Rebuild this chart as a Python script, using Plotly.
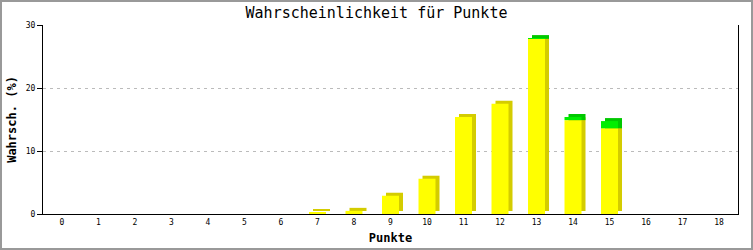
import plotly.graph_objects as go

# ---- data ----
punkte = list(range(19))
tick_labels = [str(p) for p in punkte]
gelb = [0, 0, 0, 0, 0, 0, 0, 0.25, 0.5, 2.9, 5.6, 15.4, 17.5, 27.8, 14.9, 13.6, 0, 0, 0]
gruen = [0, 0, 0, 0, 0, 0, 0, 0, 0, 0, 0, 0, 0, 0.12, 0.5, 1.15, 0, 0, 0]
y_ticks = [0, 10, 20, 30]

# ---- layout geometry ----
W, H = 753, 250
ML, MR, MT, MB = 43, 15, 25, 36
PW, PH = W - ML - MR, H - MT - MB
XR = [-0.52, 18.52]
YR = [0, 30]
px_per_cat = PW / (XR[1] - XR[0])
px_per_unit = PH / (YR[1] - YR[0])
bw = 17 / px_per_cat          # front width
dx = 4 / px_per_cat           # 3D depth in x
dy = 3 / px_per_unit          # 3D depth in y

fig = go.Figure()
common = dict(width=bw, marker_line_width=0, hoverinfo="skip", showlegend=False)
# shadow (3D side/top) bars
fig.add_trace(go.Bar(x=punkte, y=gelb, base=[dy] * len(punkte), offset=-bw / 2 + dx,
                     marker_color="#d4cc00", **common))
fig.add_trace(go.Bar(x=punkte, y=[g + dy if g > 0 else 0 for g in gruen], base=gelb,
                     offset=-bw / 2 + dx, marker_color="#00c800", **common))
# front bars
fig.add_trace(go.Bar(x=punkte, y=gelb, base=[0] * len(punkte), offset=-bw / 2,
                     marker_color="#ffff00", **common))
fig.add_trace(go.Bar(x=punkte, y=gruen, base=gelb, offset=-bw / 2,
                     marker_color="#00ee00", **common))

mono = "DejaVu Sans Mono"
fig.update_layout(
    width=W, height=H,
    margin=dict(l=ML, r=MR, t=MT, b=MB, autoexpand=False),
    barmode="overlay",
    plot_bgcolor="white", paper_bgcolor="white",
    title=dict(text="Wahrscheinlichkeit für Punkte", x=0.5, xanchor="center",
               y=1 - 13 / H, yanchor="middle",
               font=dict(family=mono, size=15, color="black")),
    xaxis=dict(range=XR, tickmode="array", tickvals=punkte, ticktext=tick_labels,
               automargin=False,
               showgrid=False, zeroline=False, showline=True, linecolor="black",
               linewidth=1, ticks="", tickfont=dict(family=mono, size=8, color="black"),
               title=dict(text="<b>Punkte</b>", font=dict(family=mono, size=12, color="black"),
                          standoff=8)),
    yaxis=dict(range=YR, tickmode="array", tickvals=y_ticks, showgrid=True,
               automargin=False,
               gridcolor="#bbbbbb", griddash="3px,4px", gridwidth=1, zeroline=False,
               showline=True, linecolor="black", linewidth=1, mirror=True,
               ticks="outside", ticklen=5, tickcolor="black",
               tickfont=dict(family=mono, size=8, color="black"),
               title=dict(text="<b>Wahrsch. (%)</b>", font=dict(family=mono, size=12, color="black"),
                          standoff=6)),
    shapes=[dict(type="rect", xref="paper", yref="paper",
                 x0=-(ML - 1) / PW, x1=1 + (MR - 1) / PW,
                 y0=-(MB - 1) / PH, y1=1 + (MT - 1) / PH,
                 line=dict(color="#999999", width=2), fillcolor="rgba(0,0,0,0)", layer="above")],
)

fig.write_html("out.html")
